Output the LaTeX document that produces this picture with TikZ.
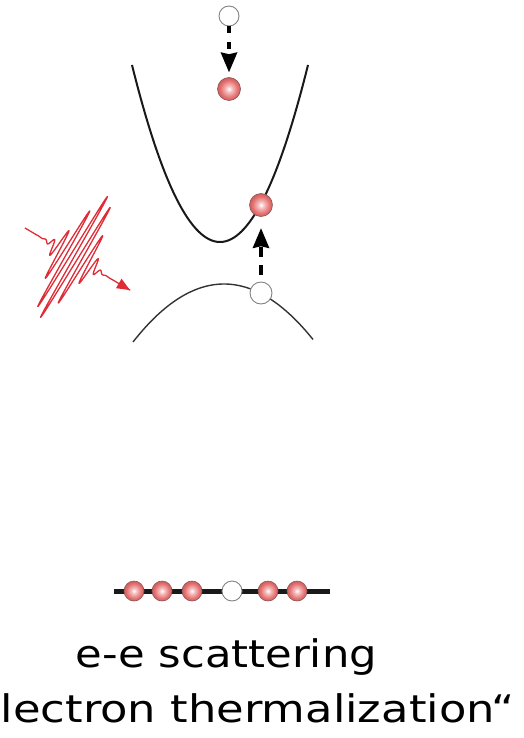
\documentclass[tikz,border=0pt]{standalone}
\usepackage{fontspec}
\setmainfont{DejaVu Sans}
\newfontfamily\labelfont[FakeStretch=1.14]{DejaVu Sans}
\newfontfamily\labelwidefont[FakeStretch=1.18]{DejaVu Sans}
\usetikzlibrary{arrows.meta}

\definecolor{ballred}{RGB}{230,110,110}
\definecolor{balledge}{RGB}{140,85,85}
\definecolor{pulsered}{RGB}{222,45,55}
\definecolor{holeedge}{RGB}{130,130,130}

% pink electron with a bright centre
\pgfdeclareradialshading{electronshade}{\pgfpoint{0bp}{0bp}}{%
  color(0bp)=(white);
  color(7bp)=(ballred!45!white);
  color(19bp)=(ballred);
  color(25bp)=(ballred!88!black);
  color(50bp)=(ballred!88!black)}

\tikzset{
  electron/.style={circle, minimum size=#1, inner sep=0pt, draw=balledge,
    line width=0.6pt, shading=electronshade},
  electron/.default=23pt,
  hole/.style={circle, minimum size=#1, inner sep=0pt, draw=holeedge,
    line width=0.9pt, fill=white},
  hole/.default=21pt,
  conduction/.style={black!90, line width=2pt},
  valence/.style={black!80, line width=1.4pt},
  jump/.style={line width=3.6pt, black,
    -{Stealth[length=20pt, width=17pt, inset=2pt, line width=0pt]}},
  pulse/.style={pulsered, line width=1.3pt, line join=round,
    -{Triangle[length=13pt, width=11pt, line width=0pt]}},
  chain/.style={black!90, line width=5pt},
  caption/.style={font=\labelfont\fontsize{38}{44}\selectfont, inner sep=0pt},
  widecaption/.style={font=\labelwidefont\fontsize{38}{44}\selectfont, inner sep=0pt}
}

\begin{document}
\begin{tikzpicture}[x=1pt, y=-1pt]
  \useasboundingbox (0,0) rectangle (524,738);
  \clip (0,0) rectangle (524,738);

  % conduction band
  \draw[conduction] plot[domain=-88:88, samples=80, smooth]
    ({220+\x}, {242-0.02286*\x*\x});
  % valence band
  \draw[valence] plot[domain=-91:89, samples=80, smooth]
    ({224+\x}, {284+0.007*\x*\x});

  % electrons and holes
  \node[hole=20pt] (h1) at (229,16) {};
  \node[electron] (e1) at (229,89) {};
  \node[electron] (e2) at (261,205) {};
  \node[hole=22pt] (h2) at (261,293) {};

  % relaxation and excitation
  \draw[jump, dash pattern=on 7pt off 9pt, shorten >=5pt] (h1.south) -- (e1.north);
  \draw[jump, dash pattern=on 10pt off 8pt, dash phase=11pt, shorten >=11.5pt]
    (h2.north) -- (e2.south);

  % exciting light pulse: a short wave packet along its direction of travel
  \begin{scope}[shift={(74,257)}, rotate=-30.6]
    \draw[pulse] plot[domain=-57:65, samples=2600]
      (\x, {70*exp(-(\x/16)^2)*sin(45*\x)});
  \end{scope}

  % thermalized distribution
  \coordinate (cl) at (114,591);
  \coordinate (cr) at (330,591);
  \draw[chain] (cl) -- (cr);
  \node[electron=20pt] (c1) at (134,591) {};
  \node[electron=20pt] (c2) at (162,591) {};
  \node[electron=20pt] (c3) at (192,591) {};
  \node[hole=20pt]     (c4) at (232,591) {};
  \node[electron=20pt] (c5) at (268,591) {};
  \node[electron=20pt] (c6) at (297,591) {};

  % labels
  \node[caption, anchor=base] (t1) at (226.5,667) {e-e scattering};
  \node[widecaption, anchor=base east] (t2) at (515,722) {lectron thermalization“};
\end{tikzpicture}
\end{document}
